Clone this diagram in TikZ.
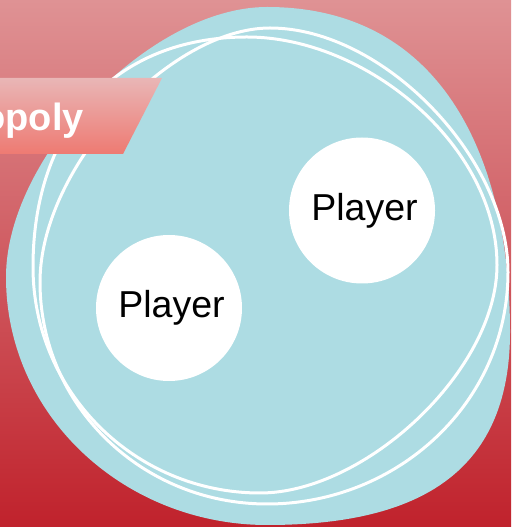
\documentclass[tikz,border=0pt]{standalone}
\usepackage{fontspec}
\newfontfamily\lsans{Liberation Sans}
\definecolor{bgtop}{RGB}{223,146,148}
\definecolor{bgbot}{RGB}{192,34,44}
\definecolor{blob}{RGB}{173,220,227}
\definecolor{bantop}{RGB}{233,182,182}
\definecolor{banbot}{RGB}{238,122,114}
\tikzset{
  player/.style={circle, fill=white, minimum size=146pt, inner sep=0pt,
    font=\lsans\fontsize{37.5}{44}\selectfont, text=black},
  ring/.style={draw=white, line width=3pt},
  bannertext/.style={font=\lsans\bfseries\fontsize{38}{46}\selectfont, text=white, inner sep=0pt}
}
\begin{document}
\begin{tikzpicture}[x=1pt,y=1pt]
\useasboundingbox (0,0) rectangle (511,527);
\clip (0,0) rectangle (511,527);
\shade[top color=bgtop, bottom color=bgbot] (0,0) rectangle (511,527);
% blob
\fill[blob] (267,520) to[out=0,in=90,looseness=1.1] (510,195)
  to[out=-90,in=0,looseness=1.2] (267,2)
  to[out=180,in=-90,looseness=1] (6,250)
  .. controls (6,370) and (150,520) .. (267,520) -- cycle;
% rings
\draw[ring] (270,499) to[out=0,in=90,looseness=0.85] (508,255)
  to[out=-90,in=0,looseness=1] (267,23)
  to[out=180,in=-90,looseness=1] (40,245)
  .. controls (40,360) and (170,499) .. (270,499) -- cycle;
\draw[ring] (247,490) to[out=0,in=90,looseness=0.9] (497,262)
  to[out=-90,in=0,looseness=0.82] (260,34)
  to[out=180,in=-90,looseness=1] (33,260)
  .. controls (33,400) and (115,490) .. (247,490) -- cycle;
% banner
\shade[top color=bantop, bottom color=banbot] (-200,449) -- (162,449) -- (123,373) -- (-200,373) -- cycle;
\node[bannertext, anchor=base east] (title) at (84,396) {Monopoly};
% players
\node[player] (p1) at (362,316.5) {\hspace{5pt}Player};
\node[player] (p2) at (169,219) {\hspace{5pt}Player};
\end{tikzpicture}
\end{document}
